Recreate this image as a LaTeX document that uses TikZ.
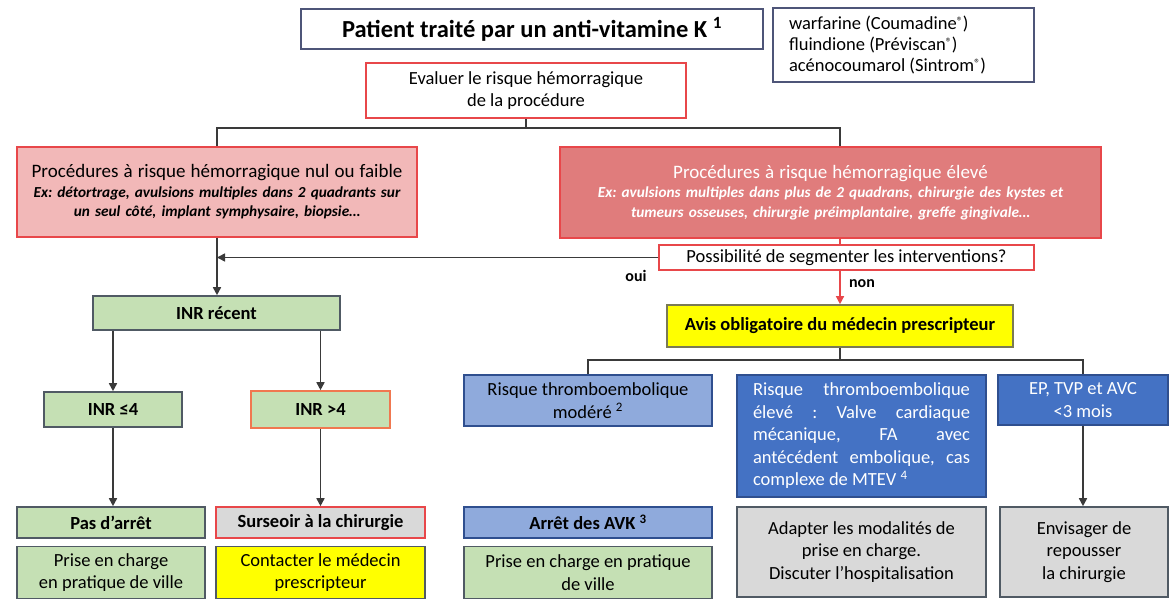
\documentclass[tikz,border=0pt]{standalone}
\usepackage{fontspec}
\setmainfont{Carlito}
\usetikzlibrary{arrows.meta, positioning}
\definecolor{lowpink}{HTML}{F2B8B8}
\definecolor{highred}{HTML}{E07C7C}
\definecolor{alertred}{HTML}{E8474A}
\definecolor{okgreen}{HTML}{C5E0B4}
\definecolor{paleblue}{HTML}{8FAADC}
\definecolor{deepblue}{HTML}{4472C4}
\definecolor{softgray}{HTML}{D9D9D9}
\definecolor{avisyellow}{HTML}{FFFF00}
\definecolor{edgegray}{HTML}{505A64}
\definecolor{edgeslate}{HTML}{4E5578}
\definecolor{edgeblue}{HTML}{2F4F8F}
\definecolor{edgeolive}{HTML}{7A7A55}
\definecolor{inrorange}{HTML}{F07850}
\definecolor{linegray}{HTML}{3A3A3A}
\newcommand{\fullline}[1]{\makebox[217pt][s]{\spaceskip=0pt\xspaceskip=0pt\relax#1}}
\newcommand{\regmark}{{\fontsize{12}{12}\selectfont\raisebox{4pt}{®}}}
\frenchspacing

\begin{document}
\begin{tikzpicture}[
    x=1pt, y=-1pt,
    node distance=7pt,
    box/.style={rectangle, draw=edgegray, line width=1.6pt, align=center, inner sep=0pt, font=\fontsize{18.5}{22.5}\selectfont},
    redbox/.style={box, draw=alertred},
    bluebox/.style={box, draw=edgeblue},
    arrow/.style={-{Triangle[length=8pt, width=8pt]}, line width=1.6pt, draw=linegray},
    link/.style={line width=1.6pt, draw=linegray},
    redlink/.style={line width=1.3pt, draw=alertred},
    lbl/.style={font=\fontsize{16}{19}\selectfont\bfseries, inner sep=0pt}
]
\useasboundingbox (0,0) rectangle (1170,599);
\node[box, draw=edgeslate, minimum width=462pt, minimum height=40pt, font=\fontsize{24.5}{28}\selectfont\bfseries] (title) at (532,29) {Patient traité par un anti-vitamine K \textsuperscript{1}};
\node[box, draw=edgeslate, minimum width=261pt, minimum height=74pt, text width=229pt, align=left, font=\fontsize{18.5}{21}\selectfont] (drugs) at (903.5,45) {\spaceskip=0pt\relax warfarine (Coumadine\regmark)\\fluindione (Préviscan\regmark)\\acénocoumarol (Sintrom\regmark)};
\node[redbox, fill=white, minimum width=320pt, minimum height=55pt] (eval) at (526,90.5) {Evaluer le risque hémorragique\\de la procédure};
\node[redbox, fill=lowpink, minimum width=400pt, minimum height=90pt, text width=392pt, font=\fontsize{15.3}{19.5}\selectfont\itshape\bfseries] (low) at (217,192) {{\fontsize{19}{23}\selectfont\upshape\mdseries Procédures à risque hémorragique nul ou faible}\\Ex: détortrage, avulsions multiples dans 2 quadrants sur\\un seul côté, implant symphysaire, biopsie…};
\node[redbox, fill=highred, text=white, minimum width=541pt, minimum height=91pt, text width=530pt, font=\fontsize{15.3}{19.5}\selectfont\itshape\bfseries] (high) at (830.5,192.5) {{\fontsize{19}{23}\selectfont\upshape\mdseries Procédures à risque hémorragique élevé}\\Ex: avulsions multiples dans plus de 2 quadrans, chirurgie des kystes et\\tumeurs osseuses, chirurgie préimplantaire, greffe gingivale…};
\node[redbox, line width=1.1pt, fill=white, minimum width=375pt, minimum height=25pt] (seg) at (846.5,257.5) {Possibilité de segmenter les interventions?};
\node[box, fill=okgreen, minimum width=247pt, minimum height=34pt, font=\fontsize{18.5}{22.5}\selectfont\bfseries] (inr) at (216.5,313) {INR récent};
\node[box, draw=edgeolive, fill=avisyellow, minimum width=346pt, minimum height=42pt, font=\fontsize{18.5}{22.5}\selectfont\bfseries] (avis) at (840,326) {Avis obligatoire du médecin prescripteur};
\node[box, fill=okgreen, minimum width=138pt, minimum height=35pt, font=\fontsize{18.5}{22.5}\selectfont\bfseries] (inrle) at (113,409.5) {INR ≤4};
\node[box, draw=inrorange, fill=okgreen, minimum width=139pt, minimum height=37pt, font=\fontsize{18.5}{22.5}\selectfont\bfseries] (inrgt) at (320.5,409.5) {INR >4};
\node[bluebox, fill=paleblue, minimum width=248pt, minimum height=51pt] (rtmod) at (588,400.5) {Risque thromboembolique\\modéré \textsuperscript{2}};
\node[bluebox, fill=deepblue, text=white, minimum width=249pt, minimum height=122pt, text width=217pt, align=left] (rthigh) at (861.5,436) {\spaceskip=0pt\relax\fullline{Risque thromboembolique}\\\fullline{élevé : Valve cardiaque}\\\fullline{mécanique, FA avec}\\\fullline{antécédent embolique, cas}\\complexe de MTEV \textsuperscript{4}};
\node[bluebox, fill=deepblue, text=white, minimum width=170pt, minimum height=50pt] (rtrecent) at (1083,400) {EP, TVP et AVC\\<3 mois};
\node[box, fill=okgreen, minimum width=188pt, minimum height=31pt, font=\fontsize{18.5}{22.5}\selectfont\bfseries] (pas) at (111,522.5) {Pas d’arrêt};
\node[box, fill=okgreen, minimum width=188pt, minimum height=52pt, below=of pas] (ville) {Prise en charge\\en pratique de ville};
\node[redbox, fill=softgray, minimum width=209pt, minimum height=31pt, font=\fontsize{18.5}{22.5}\selectfont\bfseries] (surs) at (320.5,522.5) {Surseoir à la chirurgie};
\node[box, fill=avisyellow, minimum width=209pt, minimum height=52pt, below=of surs] (contact) {Contacter le médecin\\prescripteur};
\node[bluebox, fill=paleblue, minimum width=248pt, minimum height=31pt, font=\fontsize{18.5}{22.5}\selectfont\bfseries] (arret) at (588,522.5) {Arrêt des AVK \textsuperscript{3}};
\node[box, fill=okgreen, minimum width=248pt, minimum height=52pt, below=of arret] (villebis) {Prise en charge en pratique\\de ville};
\node[box, fill=softgray, minimum width=249pt, minimum height=90pt] (adapt) at (861.5,552) {Adapter les modalités de\\prise en charge.\\Discuter l’hospitalisation};
\node[box, fill=softgray, minimum width=168pt, minimum height=90pt] (delay) at (1084,552) {Envisager de\\repousser\\la chirurgie};
\node[lbl] (oui) at (636,276) {oui};
\node[lbl] (non) at (862,284) {non};
\coordinate (split) at (526,128);
\coordinate (fork) at (840,360);
\draw[link] (eval.south) -- (split);
\draw[link] (low.north) |- (split) -| (high.north -| avis.north);
\draw[redlink] (high.south -| avis.north) -- (seg.north -| avis.north);
\draw[arrow, draw=alertred, redlink] (seg.south -| avis.north) -- (avis.north);
\draw[arrow] (seg.west) -- (seg.west -| low.south);
\draw[arrow] (low.south) -- (low.south |- inr.north);
\draw[arrow] (inr.south -| inrle.north) -- (inrle.north);
\draw[arrow] (inr.south -| inrgt.north) -- (inrgt.north);
\draw[arrow] (inrle.south) -- (inrle.south |- pas.north);
\draw[arrow] (inrgt.south) -- (inrgt.south |- surs.north);
\draw[link] (avis.south) -- (fork);
\draw[link] (rtmod.north) |- (fork) -| (rtrecent.north);
\draw[arrow] (rtrecent.south) -- (rtrecent.south |- delay.north);
\end{tikzpicture}
\end{document}
